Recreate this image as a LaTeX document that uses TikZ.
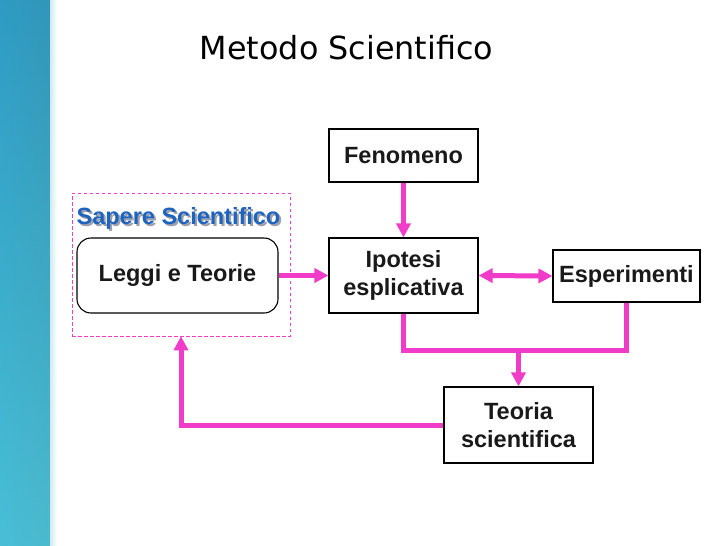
\documentclass[tikz,border=0pt]{standalone}
\usepackage{fontspec}
\setmainfont{Liberation Sans}
\newfontfamily\titlefont{DejaVu Sans}
\usepackage{tikz}
\usepackage{xcolor}
\usetikzlibrary{arrows.meta, positioning, calc}
\definecolor{cMagenta}{RGB}{240,60,200}
\definecolor{cBlueTxt}{RGB}{30,100,190}
\definecolor{cShadow}{RGB}{160,160,170}
\definecolor{cInk}{RGB}{25,25,25}
\definecolor{cStripTop}{RGB}{50,150,185}
\definecolor{cStripMid}{RGB}{40,165,215}
\definecolor{cStripBot}{RGB}{90,205,215}
\definecolor{cPale}{RGB}{205,235,242}
\newcommand{\shadowtext}[1]{\rlap{\hspace{2pt}\raisebox{-2pt}{\color{cShadow}#1}}#1}
\tikzset{
	box/.style     ={rectangle, draw=black, line width=1.1pt, minimum width=149pt, align=center, fill=white, text=cInk, font=\fontsize{23.5}{28.5}\selectfont\bfseries, inner sep=2pt},
	roundbox/.style={box, rounded corners=14pt, minimum width=201pt, minimum height=75pt},
	group/.style   ={rectangle, draw=cMagenta, line width=0.6pt, dash pattern=on 3.5pt off 2.5pt, minimum width=218pt, minimum height=143pt},
	link/.style    ={draw=cMagenta, line width=5pt},
	arr/.style     ={link, -{Triangle[length=14pt,width=14pt]}},
	dblarr/.style  ={link, {Triangle[length=14pt,width=14pt]}-{Triangle[length=14pt,width=14pt]}},
}

\begin{document}
\begin{tikzpicture}[x=1pt, y=-1pt]
	\useasboundingbox (0,0) rectangle (728,546);
	% left decorative strip
	\shade[top color=cStripTop, middle color=cStripMid, bottom color=cStripBot] (0,0) rectangle (50,546);
	\shade[left color=cStripMid, right color=cStripTop, opacity=0.35] (0,0) rectangle (50,546);
	\shade[left color=cPale, right color=white] (50,0) rectangle (57,546);
	% title
	\node[anchor=base, font=\titlefont\fontsize{31.8}{36}\selectfont, text=black] (title) at (346.5,59) {Metodo Scientifico};
	% group of knowledge
	\node[group] (sapereGroup) at (181,264.5) {};
	\node[anchor=base, font=\fontsize{23.5}{28}\selectfont\bfseries, text=cBlueTxt] (sapere) at (178.5,224.5) {\shadowtext{Sapere Scientifico}};
	\node[roundbox] (leggi) at (177.5,275.5) {Leggi e Teorie};
	% boxes
	\node[box, minimum height=53pt] (fenomeno) at (403.5,155.5) {Fenomeno};
	\node[box, minimum height=75pt] (ipotesi) at (403.5,275.5) {Ipotesi\\esplicativa};
	\node[box, minimum width=147pt, minimum height=52pt] (esperimenti) at (626.5,276) {Esperimenti};
	\node[box, minimum height=76pt] (teoria) at (518.5,425) {Teoria\\scientifica};
	\coordinate (join) at (518.5,350);
	% connectors
	\draw[arr] (fenomeno) -- (ipotesi);
	\draw[arr] (leggi.east) -- (ipotesi.west);
	\draw[dblarr] (ipotesi.east) -- (esperimenti.west);
	\draw[link] (ipotesi.south) -- (ipotesi.south |- join) -- (esperimenti.south |- join) -- (esperimenti.south);
	\draw[arr] (join) -- (teoria.north);
	\draw[arr] (teoria.west) -| (sapereGroup.south);
\end{tikzpicture}
\end{document}
